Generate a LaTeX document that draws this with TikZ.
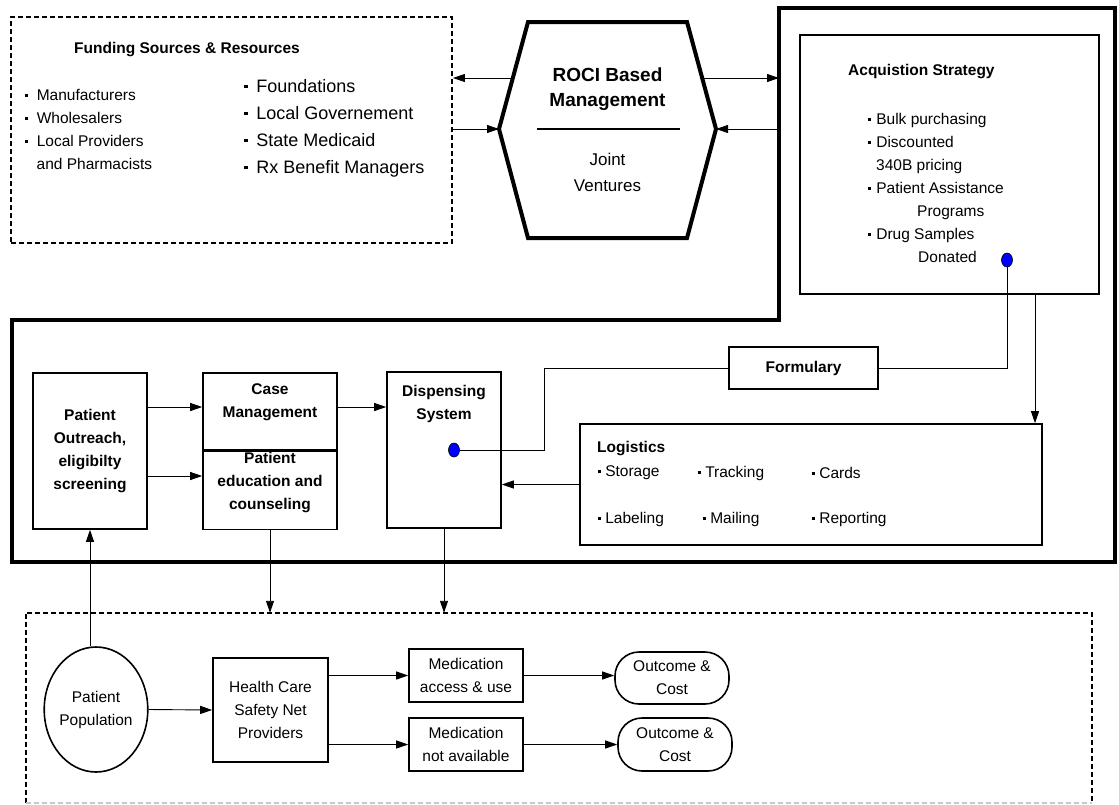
\documentclass[tikz,border=0pt]{standalone}
\usepackage{fontspec}
\setmainfont{Liberation Sans}
\usepackage{xcolor}
\definecolor{dotBlue}{HTML}{0000FF}
\definecolor{edgeGray}{HTML}{C8C8C8}
\usetikzlibrary{arrows.meta, positioning, shapes.geometric, calc}
\newcommand{\sqbul}{\rule[0.22em]{0.2em}{0.2em}}

\begin{document}
\begin{tikzpicture}[x=1pt, y=-1pt,
  box/.style={draw, line width=1.6pt, inner sep=0pt, align=center},
  txt/.style={font=\fontsize{15.5}{23}\selectfont, align=center, inner sep=0pt},
  btxt/.style={font=\fontsize{15.5}{23}\selectfont\bfseries, align=center, inner sep=0pt},
  lst/.style={font=\fontsize{15.5}{23}\selectfont, align=left, inner sep=0pt},
  arr/.style={-{Triangle[length=12pt,width=8pt]}, line width=0.9pt},
  link/.style={line width=0.9pt},
  dashline/.style={dash pattern=on 5pt off 3pt, line width=1.8pt},
  dot/.style={ellipse, draw, fill=dotBlue, minimum width=11pt, minimum height=14pt, inner sep=0pt, line width=0.6pt}
]
  \useasboundingbox (0,0) rectangle (1119,804);

  % funding sources
  \node[box, dashline, minimum width=441pt, minimum height=226pt] (fund) at (231.5,130) {};
  \node[btxt] (fundT) at (187,50) {Funding Sources \& Resources};
  \node[lst, anchor=west] (fundA) at (24.5,129) {\sqbul\hspace{9pt}Manufacturers\\\sqbul\hspace{9pt}Wholesalers\\\sqbul\hspace{9pt}Local Providers\\\hspace{12pt}and Pharmacists};
  \node[lst, font=\fontsize{18}{27}\selectfont, anchor=west] (fundB) at (244,128) {\sqbul\hspace{8.5pt}Foundations\\\sqbul\hspace{8.5pt}Local Governement\\\sqbul\hspace{8.5pt}State Medicaid\\\sqbul\hspace{8.5pt}Rx Benefit Managers};

  % ROCI hexagon
  \coordinate (hexTL) at (528,22);
  \coordinate (hexTR) at (687,22);
  \coordinate (hexR) at (716,129);
  \coordinate (hexBR) at (687,238);
  \coordinate (hexBL) at (528,238);
  \coordinate (hexL) at (499,129);
  \coordinate (hexUL) at (512.5,78);
  \coordinate (hexUR) at (702.5,78);
  \draw[line width=4pt] (hexTL) -- (hexTR) -- (hexR) -- (hexBR) -- (hexBL) -- (hexL) -- cycle;
  \node[btxt, font=\fontsize{19}{25}\selectfont\bfseries] (roci) at (607.5,89.5) {ROCI Based\\Management};
  \draw[line width=1.3pt] (537,129) -- (680,129);
  \node[txt, font=\fontsize{17}{26}\selectfont] (joint) at (607.5,172) {Joint\\Ventures};

  % thick outline
  \coordinate (olA) at (779,8);
  \coordinate (olB) at (1115,8);
  \coordinate (olC) at (1115,562);
  \coordinate (olD) at (12,562);
  \coordinate (olE) at (12,320);
  \coordinate (olF) at (779,320);
  \draw[line width=4.5pt] (olA) -- (olB) -- (olC) -- (olD) -- (olE) -- (olF) -- cycle;

  \draw[arr] (hexUL) -- (hexUL -| fund.east);
  \draw[arr] (fund.east |- hexL) -- (hexL);
  \draw[arr] (hexUR) -- (hexUR -| olA);
  \draw[arr] (olA |- hexR) -- (hexR);

  % acquisition
  \node[box, minimum width=299pt, minimum height=259pt] (acq) at (949.5,164.5) {};
  \node[btxt, anchor=west] (acqT) at (848,72) {Acquistion Strategy};
  \node[lst, anchor=west] (acqL) at (868,187.5) {\sqbul\hspace{5pt}Bulk purchasing\\\sqbul\hspace{5pt}Discounted\\\hspace{8pt}340B pricing\\\sqbul\hspace{5pt}Patient Assistance\\\hspace{49pt}Programs\\\sqbul\hspace{5pt}Drug Samples\\\hspace{50pt}Donated};
  \node[dot] (dotA) at (1007,260) {};

  % formulary and logistics
  \node[box, btxt, minimum width=149pt, minimum height=42pt] (form) at (803.5,368) {Formulary};
  \node[box, minimum width=462pt, minimum height=121pt] (logi) at (811,484.5) {};
  \node[btxt, anchor=west] (logiT) at (597,449) {Logistics};
  \node[lst, anchor=west] (lgA) at (598,473) {\sqbul\hspace{4pt}Storage};
  \node[lst, anchor=west] (lgB) at (698,473) {\sqbul\hspace{4pt}Tracking};
  \node[lst, anchor=west] (lgC) at (812,473) {\sqbul\hspace{4pt}Cards};
  \node[lst, anchor=west] (lgD) at (598,519) {\sqbul\hspace{4pt}Labeling};
  \node[lst, anchor=west] (lgE) at (703,519) {\sqbul\hspace{4pt}Mailing};
  \node[lst, anchor=west] (lgF) at (812,519) {\sqbul\hspace{4pt}Reporting};

  % program boxes
  \node[box, btxt, minimum width=114pt, minimum height=156pt] (reach) at (90,451) {Patient\\Outreach,\\eligibilty\\screening};
  \node[box, minimum width=134pt, minimum height=77pt] (case) at (270,411.5) {};
  \node[btxt] (caseT) at (270,402.5) {Case\\Management};
  \node[box, minimum width=134pt, minimum height=78pt, below=0pt of case] (educ) {};
  \node[btxt] (educT) at (270,483) {Patient\\education and\\counseling};
  \node[box, minimum width=114pt, minimum height=156pt] (disp) at (444,450) {};
  \node[btxt] (dispT) at (444,404) {Dispensing\\System};
  \node[dot] (dotD) at (454,450) {};

  \coordinate (rowA) at (0,407);
  \coordinate (rowB) at (0,476);
  \coordinate (colL) at (1035,0);
  \draw[arr] (reach.east |- rowA) -- (case.west |- rowA);
  \draw[arr] (reach.east |- rowB) -- (educ.west |- rowB);
  \draw[arr] (case.east |- rowA) -- (disp.west |- rowA);
  \draw[link] (dotD) -- ++(90,0) |- (form.west);
  \draw[link] (dotA) |- (form.east);
  \draw[arr] (acq.south -| colL) -- (logi.north -| colL);
  \draw[arr] (logi.west) -- (logi.west -| disp.east);

  % patient environment
  \node[minimum width=1066pt, minimum height=190pt, inner sep=0pt] (env) at (559,708) {};
  \draw[dashline] (env.south west) |- (env.north east) -- (env.south east);
  \draw[dashline, edgeGray] (env.south west) -- (env.south east);
  \node[ellipse, draw, line width=1.6pt, txt, minimum width=102pt, minimum height=125pt] (pop) at (96,709.5) {Patient\\Population};
  \node[box, txt, minimum width=115pt, minimum height=104pt] (hc) at (270.5,710) {Health Care\\Safety Net\\Providers};
  \node[box, txt, minimum width=114pt, minimum height=53pt] (medA) at (466,675.5) {Medication\\access \& use};
  \node[box, txt, minimum width=114pt, minimum height=53pt] (medB) at (466,744.5) {Medication\\not available};
  \node[box, txt, rounded corners=24pt, minimum width=114pt, minimum height=52pt] (outA) at (672,678) {Outcome \&\\Cost};
  \node[box, txt, rounded corners=24pt, minimum width=114pt, minimum height=53pt] (outB) at (675,744.5) {Outcome \&\\Cost};

  \draw[arr] (reach.south |- pop.north) -- (reach.south);
  \draw[arr] (educ.south) -- (educ.south |- env.north);
  \draw[arr] (disp.south) -- (disp.south |- env.north);
  \draw[arr] (pop.east) -- (hc.west);
  \draw[arr] (hc.east |- medA) -- (medA.west);
  \draw[arr] (hc.east |- medB) -- (medB.west);
  \draw[arr] (medA.east) -- (medA.east -| outA.west);
  \draw[arr] (medB.east) -- (medB.east -| outB.west);
\end{tikzpicture}
\end{document}
